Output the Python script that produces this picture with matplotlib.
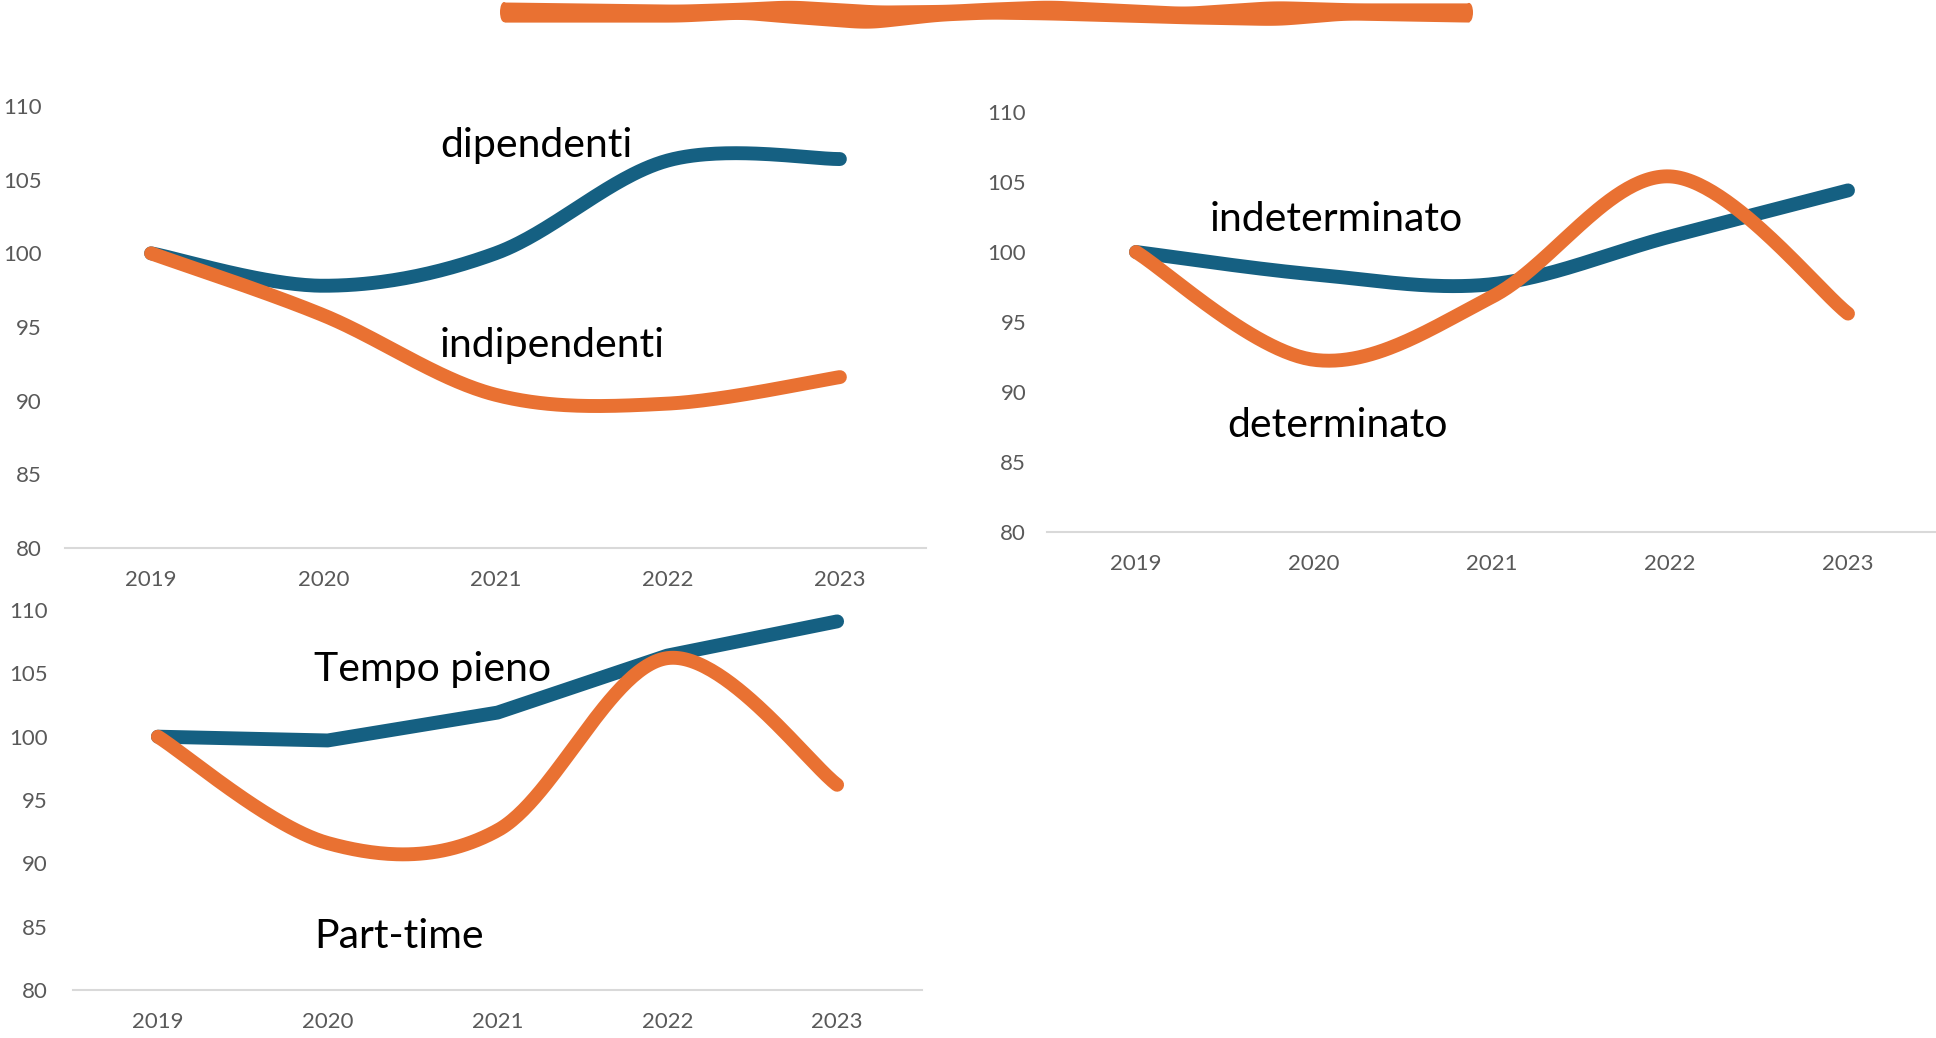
import numpy as np
import matplotlib
matplotlib.use("Agg")
import matplotlib.pyplot as plt

plt.rcParams['font.family'] = ['Lato', 'DejaVu Sans']

years = ["2019", "2020", "2021", "2022", "2023"]
y_ticks = [80, 85, 90, 95, 100, 105, 110]

dipendenti = [100, 97.8, 100.0, 106.3, 106.4]
indipendenti = [100, 95.8, 90.4, 89.8, 91.6]

indeterminato = [100, 98.4, 97.7, 101.1, 104.4]
determinato = [100, 92.3, 96.8, 105.4, 95.6]

tempo_pieno = [100, 99.7, 101.9, 106.4, 109.1]
part_time = [100, 91.6, 92.6, 106.2, 96.2]

BLUE = "#156082"
ORANGE = "#E97132"
GRAY_TXT = "#595959"
AXIS = "#D9D9D9"

W, H = 1936, 1038
fig = plt.figure(figsize=(W / 100, H / 100), dpi=100)


def smooth(vals, n=60):
    p = np.asarray(vals, float)
    x = np.arange(len(p), dtype=float)
    xs, ys = [], []
    for i in range(len(p) - 1):
        p0 = p[i - 1] if i > 0 else p[i]
        p3 = p[i + 2] if i + 2 < len(p) else p[i + 1]
        x0 = x[i - 1] if i > 0 else x[i]
        x3 = x[i + 2] if i + 2 < len(p) else x[i + 1]
        c1y = p[i] + (p[i + 1] - p0) / 6
        c2y = p[i + 1] - (p3 - p[i]) / 6
        c1x = x[i] + (x[i + 1] - x0) / 6
        c2x = x[i + 1] - (x3 - x[i]) / 6
        t = np.linspace(0, 1, n)
        b = [(1 - t) ** 3, 3 * (1 - t) ** 2 * t, 3 * (1 - t) * t ** 2, t ** 3]
        xs.append(b[0] * x[i] + b[1] * c1x + b[2] * c2x + b[3] * x[i + 1])
        ys.append(b[0] * p[i] + b[1] * c1y + b[2] * c2y + b[3] * p[i + 1])
    return np.concatenate(xs), np.concatenate(ys)


def px_axes(left, right, top, bottom):
    return fig.add_axes([left / W, 1 - bottom / H, (right - left) / W, (bottom - top) / H])


def style(ax, ypad):
    ax.set_xlim(-0.5, 4.5)
    ax.set_ylim(80, 110)
    ax.set_yticks(y_ticks)
    ax.set_xticks(range(len(years)))
    ax.set_xticklabels(years)
    for s in ["top", "right", "left"]:
        ax.spines[s].set_visible(False)
    ax.spines["bottom"].set_color(AXIS)
    ax.spines["bottom"].set_linewidth(1.5)
    ax.tick_params(axis="both", length=0, labelsize=16, labelcolor=GRAY_TXT)
    ax.tick_params(axis="y", pad=ypad)
    ax.tick_params(axis="x", pad=16)
    ax.patch.set_alpha(0)


LW = 10

# Top-left
ax1 = px_axes(65, 926, 106, 548)
style(ax1, 17)
for vals, c in [(dipendenti, BLUE), (indipendenti, ORANGE)]:
    xs, ys = smooth(vals)
    ax1.plot(xs, ys, color=c, lw=LW, solid_capstyle="round", solid_joinstyle="round", clip_on=False)

# Top-right
ax2 = px_axes(1047, 1937, 112, 532)
style(ax2, 15)
for vals, c in [(indeterminato, BLUE), (determinato, ORANGE)]:
    xs, ys = smooth(vals)
    ax2.plot(xs, ys, color=c, lw=LW, solid_capstyle="round", solid_joinstyle="round", clip_on=False)

# Bottom-left
ax3 = px_axes(73, 922, 610, 990)
style(ax3, 18)
ax3.plot(range(len(years)), tempo_pieno, color=BLUE, lw=LW, solid_capstyle="round",
         solid_joinstyle="round", clip_on=False)
xs, ys = smooth(part_time)
ax3.plot(xs, ys, color=ORANGE, lw=LW, solid_capstyle="round", solid_joinstyle="round", clip_on=False)

# Labels
lab = dict(fontsize=29.5, color="black", ha="left", va="center")
fig.text(440 / W, 1 - 145 / H, "dipendenti", **lab)
fig.text(440 / W, 1 - 345 / H, "indipendenti", **lab)
fig.text(1210 / W, 1 - 220 / H, "indeterminato", **lab)
fig.text(1227 / W, 1 - 425 / H, "determinato", **lab)
fig.text(314 / W, 1 - 670 / H, "Tempo pieno", **lab)
fig.text(314 / W, 1 - 936 / H, "Part-time", **lab)

# Decorative wavy stroke at the top
deco = fig.add_axes([0, 0, 1, 1])
deco.set_xlim(0, W)
deco.set_ylim(H, 0)
deco.axis("off")
ex = [504, 679, 741, 790, 864, 877, 938, 951, 988, 1049, 1173, 1185, 1272, 1284, 1346, 1358, 1469]
up = [3.3, 5.0, 3.5, 1.7, 5.0, 5.7, 5.2, 5.0, 3.5, 1.7, 6.3, 6.7, 2.3, 2.4, 3.8, 4.0, 4.0]
lo = [15.7, 15.7, 13.3, 16.5, 20.7, 20.2, 15.0, 14.5, 13.3, 14.0, 16.7, 17.0, 18.3, 18.0, 14.0, 14.2, 15.7]
gx = np.linspace(ex[0], ex[-1], 800)
k = np.ones(25) / 25
gu = np.convolve(np.pad(np.interp(gx, ex, up), 12, mode="edge"), k, mode="valid")
gl = np.convolve(np.pad(np.interp(gx, ex, lo), 12, mode="edge"), k, mode="valid")
mid = 11.0
gu = mid + 1.3 * (gu - mid) + 1.0
gl = mid + 1.3 * (gl - mid) + 5.0
deco.fill_between(gx, gu, gl, color=ORANGE, lw=0)
deco.add_patch(matplotlib.patches.Ellipse((gx[0], (gu[0] + gl[0]) / 2), 8, gl[0] - gu[0], color=ORANGE, lw=0))
deco.add_patch(matplotlib.patches.Ellipse((gx[-1], (gu[-1] + gl[-1]) / 2), 8, gl[-1] - gu[-1], color=ORANGE, lw=0))

fig.savefig("out.png", dpi=100)
